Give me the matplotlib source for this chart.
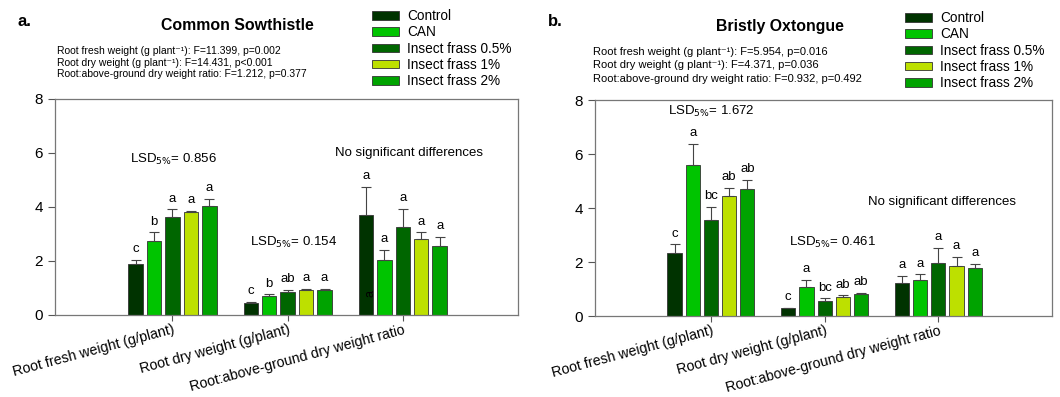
import matplotlib
matplotlib.use("Agg")
import matplotlib.pyplot as plt
from matplotlib.patches import Patch
import numpy as np

plt.rcParams['font.family'] = ['Liberation Sans', 'DejaVu Sans']

W, H = 1060, 397

categories = ["Root fresh weight (g/plant)", "Root dry weight (g/plant)",
              "Root:above-ground dry weight ratio"]
treatments = ["Control", "CAN", "Insect frass 0.5%", "Insect frass 1%", "Insect frass 2%"]
colors = ["#003300", "#00c400", "#006600", "#bde000", "#00a300"]

# Common Sowthistle: rows = treatments, cols = categories
sow_mean = [[1.90, 0.45, 3.70],
            [2.73, 0.72, 2.05],
            [3.63, 0.87, 3.27],
            [3.80, 0.92, 2.82],
            [4.02, 0.94, 2.55]]
sow_err = [[0.15, 0.05, 1.05],
           [0.33, 0.04, 0.37],
           [0.28, 0.07, 0.67],
           [0.07, 0.03, 0.24],
           [0.27, 0.04, 0.33]]
sow_letters = [["c", "c", "a"],
               ["b", "b", "a"],
               ["a", "ab", "a"],
               ["a", "a", "a"],
               ["a", "a", "a"]]
sow_stats = ["Root fresh weight (g plant\u207b\u00b9): F=11.399, p=0.002",
             "Root dry weight (g plant\u207b\u00b9): F=14.431, p<0.001",
             "Root:above-ground dry weight ratio: F=1.212, p=0.377"]

# Bristly Oxtongue
brx_mean = [[2.32, 0.28, 1.21],
            [5.60, 1.07, 1.33],
            [3.55, 0.56, 1.95],
            [4.46, 0.69, 1.84],
            [4.70, 0.80, 1.78]]
brx_err = [[0.33, 0.02, 0.29],
           [0.77, 0.26, 0.21],
           [0.49, 0.09, 0.57],
           [0.29, 0.07, 0.35],
           [0.34, 0.04, 0.15]]
brx_letters = [["c", "c", "a"],
               ["a", "a", "a"],
               ["bc", "bc", "a"],
               ["ab", "ab", "a"],
               ["ab", "ab", "a"]]
brx_stats = ["Root fresh weight (g plant\u207b\u00b9): F=5.954, p=0.016",
             "Root dry weight (g plant\u207b\u00b9): F=4.371, p=0.036",
             "Root:above-ground dry weight ratio: F=0.932, p=0.492"]


def fx(px):
    return px / W


def fy(py):
    return 1 - py / H


def draw_panel(ax, means, errs, letters, letter_fs=9.5):
    x = np.arange(len(categories))
    step = 0.16
    for i, (m, e) in enumerate(zip(means, errs)):
        pos = x + (i - 2) * step
        ax.bar(pos, m, width=0.125, color=colors[i], edgecolor="#333333",
               linewidth=0.6, zorder=2)
        ax.errorbar(pos, m, yerr=[np.zeros(len(e)), e], fmt="none",
                    ecolor="#444444", elinewidth=0.8, capsize=3.5,
                    capthick=0.8, zorder=3)
        for j in range(len(m)):
            ax.text(pos[j], m[j] + e[j] + 0.18, letters[i][j], ha="center",
                    va="bottom", fontsize=letter_fs)
    ax.set_xlim(-1.02, 3.0)
    ax.set_ylim(0, 8)
    ax.set_yticks([0, 2, 4, 6, 8])
    ax.set_xticks(x)
    ax.set_xticklabels(categories, rotation=15, ha="right",
                       rotation_mode="anchor", fontsize=10.2)
    ax.tick_params(axis="y", labelsize=11, length=5, width=0.8, color="#555555")
    ax.tick_params(axis="x", length=4, width=0.8, color="#555555", pad=1.5)
    for s in ax.spines.values():
        s.set_color("#777777")
        s.set_linewidth(0.9)


fig = plt.figure(figsize=(W / 100, H / 100), dpi=100)

ax1 = fig.add_axes([fx(55), fy(315), fx(518) - fx(55), fy(99) - fy(315)])
draw_panel(ax1, sow_mean, sow_err, sow_letters)
ax1.text(-0.37, 5.75, "LSD$_{5\\%}$= 0.856", fontsize=9.5, ha="left", va="center")
ax1.text(0.67, 2.68, "LSD$_{5\\%}$= 0.154", fontsize=9.5, ha="left", va="center")
ax1.text(2.05, 6.0, "No significant differences", fontsize=9.5, ha="center",
         va="center")
# stray letter sitting inside the Control bar of the ratio group
ax1.text(1.715, 0.78, "a", fontsize=9, rotation=90, ha="center", va="center",
         color="black")

ax2 = fig.add_axes([fx(595), fy(316), fx(1052) - fx(595), fy(100) - fy(316)])
draw_panel(ax2, brx_mean, brx_err, brx_letters)
ax2.text(-0.38, 7.57, "LSD$_{5\\%}$= 1.672", fontsize=9.5, ha="left", va="center")
ax2.text(0.69, 2.72, "LSD$_{5\\%}$= 0.461", fontsize=9.5, ha="left", va="center")
ax2.text(2.03, 4.23, "No significant differences", fontsize=9.5, ha="center",
         va="center")

# panel labels and titles
fig.text(fx(17), fy(21), "a.", fontsize=12, fontweight="bold", va="center")
fig.text(fx(548), fy(21), "b.", fontsize=12, fontweight="bold", va="center")
fig.text(fx(237), fy(25), "Common Sowthistle", fontsize=11.4, fontweight="bold",
         ha="center", va="center")
fig.text(fx(780), fy(27), "Bristly Oxtongue", fontsize=11.4, fontweight="bold",
         ha="center", va="center")

for k, line in enumerate(sow_stats):
    fig.text(fx(57), fy(51 + 11.7 * k), line, fontsize=7.5, va="center")
for k, line in enumerate(brx_stats):
    fig.text(fx(593), fy(52 + 13.5 * k), line, fontsize=8.0, va="center")

handles = [Patch(facecolor=c, edgecolor="#333333", linewidth=0.6) for c in colors]
for x0, y0 in ((372, 9), (905, 11)):
    fig.legend(handles, treatments, loc="upper left",
               bbox_to_anchor=(fx(x0), fy(y0)), frameon=False, fontsize=9.8,
               borderpad=0, handlelength=2.0, handleheight=0.6,
               handletextpad=0.6, labelspacing=0.17, borderaxespad=0)

fig.savefig("out.png", dpi=100)
